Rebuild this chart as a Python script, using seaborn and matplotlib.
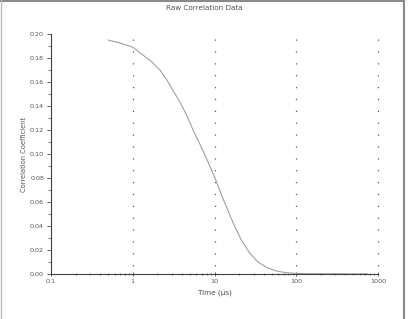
import matplotlib
matplotlib.use("Agg")
import matplotlib.pyplot as plt
import seaborn as sns
import numpy as np
import pandas as pd
from matplotlib.ticker import FixedLocator, MultipleLocator, LogLocator, NullFormatter
from matplotlib.lines import Line2D

# Data
time_us = [0.5, 0.7, 1.0, 1.3, 1.7, 2.15, 2.6, 3.1, 3.8, 4.6, 5.46, 6.65, 8.0, 10.0,
           12.5, 16.8, 21.0, 26.9, 34.0, 43.5, 55.0, 69.0, 85.0, 100.0, 150.0,
           220.0, 320.0, 450.0, 600.0, 750.0]
corr = [0.195, 0.1925, 0.189, 0.183, 0.177, 0.170, 0.162, 0.153, 0.143, 0.132, 0.120,
        0.108, 0.096, 0.081, 0.064, 0.043, 0.029, 0.0175, 0.010, 0.0055, 0.0028, 0.0015,
        0.0008, 0.0005, 0.0003, 0.0002, 0.0002, 0.0001, 0.0001, 0.0001]
x_ticks = [0.1, 1, 10, 100, 1000]
x_labels = ["0.1", "1", "10", "100", "1000"]
y_ticks = [0.00, 0.02, 0.04, 0.06, 0.08, 0.10, 0.12, 0.14, 0.16, 0.18, 0.20]

df = pd.DataFrame({"Time": time_us, "Corr": corr})

sns.set_theme(style="white")
plt.rcParams["font.family"] = ["DejaVu Sans"]
txt = "#555555"

fig = plt.figure(figsize=(4.08, 3.19), dpi=100)
ax = fig.add_axes([51/408, 1-274/319, (378-51)/408, (274-34)/319])

sns.lineplot(data=df, x="Time", y="Corr", ax=ax, color="#a0a0a0", lw=0.8)
ax.set_xscale("log")
ax.set_xlim(0.1, 1000)
ax.set_ylim(0, 0.20)

for xv in x_ticks[1:]:
    ax.axvline(xv, color="#555555", lw=0.9, linestyle=(3, (1, 8.5)), zorder=0, clip_on=False)

ax.xaxis.set_major_locator(FixedLocator(x_ticks))
ax.set_xticklabels(x_labels)
ax.xaxis.set_minor_locator(LogLocator(base=10, subs=np.arange(2, 10)))
ax.xaxis.set_minor_formatter(NullFormatter())
ax.yaxis.set_major_locator(FixedLocator(y_ticks))
ax.set_yticklabels([f"{v:.2f}" for v in y_ticks])
ax.yaxis.set_minor_locator(MultipleLocator(0.01))

for s in ["top", "right"]:
    ax.spines[s].set_visible(False)
for s in ["left", "bottom"]:
    ax.spines[s].set_color("#404040")
    ax.spines[s].set_linewidth(0.8)

ax.tick_params(axis="both", which="major", direction="out", length=3, width=0.6,
               color="#404040", labelsize=4.6, labelcolor=txt, pad=2, bottom=True, left=True)
ax.tick_params(axis="both", which="minor", direction="out", length=2, width=0.5,
               color="#404040", bottom=True, left=True)
ax.tick_params(axis="x", which="both", direction="inout")

ax.set_xlabel("Time (\u00b5s)", fontsize=5.2, color=txt, labelpad=4)
ax.set_ylabel("Correlation Coefficient", fontsize=4.8, color=txt, labelpad=2)
fig.text(0.5, 1-8/319, "Raw Correlation Data", ha="center", va="center", fontsize=5.2, color=txt)

# partial frame
fig.add_artist(Line2D([0, 404/408], [1-0.5/319, 1-0.5/319], transform=fig.transFigure, color="#8a8a8a", lw=1.5))
fig.add_artist(Line2D([404/408, 404/408], [0, 1], transform=fig.transFigure, color="#8a8a8a", lw=1.5))
fig.add_artist(Line2D([0.5/408, 0.5/408], [0, 1], transform=fig.transFigure, color="#bbbbbb", lw=1))

fig.savefig("out.png", dpi=100)
